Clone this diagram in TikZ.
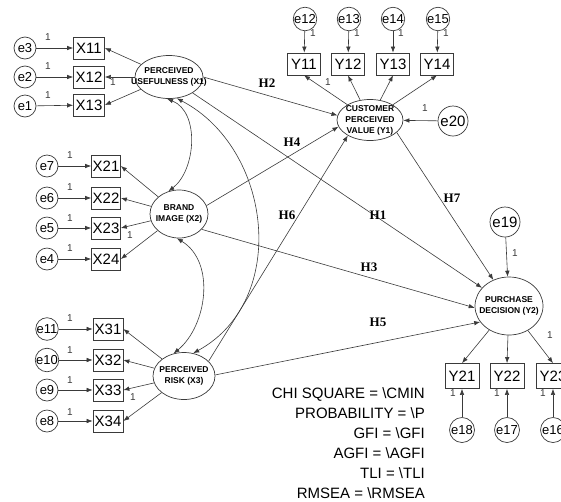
\documentclass[tikz,border=0pt]{standalone}
\usepackage{fontspec}
\setmainfont{Liberation Sans}
\newfontfamily\hypfont{Liberation Serif}
\usepackage{tikz}
\usetikzlibrary{arrows.meta, shapes.geometric}
\definecolor{linegray}{HTML}{3A3A3A}
\newcommand{\latentname}[1]{\smash{\makebox[0pt]{\raisebox{-2pt}{\begin{tabular}{@{}c@{}}#1\end{tabular}}}}}

\begin{document}
\begin{tikzpicture}[
    x=1pt, y=-1pt,
    latent/.style={ellipse, draw=linegray, line width=0.7pt, fill=white, inner sep=0pt,
                   font=\fontsize{8.5}{11}\selectfont\bfseries},
    observed/.style={rectangle, draw=linegray, line width=0.7pt, fill=white, inner sep=0pt,
                     minimum width=31pt, minimum height=22pt, font=\fontsize{15}{18}\selectfont},
    error/.style={circle, draw=linegray, line width=0.7pt, fill=white, inner sep=0pt,
                  minimum size=22pt, font=\fontsize{13}{15}\selectfont},
    arrow/.style={-{Latex[length=6pt, width=4.5pt]}, line width=0.6pt, draw=linegray},
    covar/.style={{Latex[length=6pt, width=4.5pt]}-{Latex[length=6pt, width=4.5pt]},
                  line width=0.6pt, draw=linegray},
    weight/.style={font=\fontsize{10}{12}\selectfont, inner sep=0pt, text=linegray},
    hyp/.style={font=\hypfont\bfseries\fontsize{13}{15}\selectfont, inner sep=0pt},
    fitindex/.style={font=\fontsize{15}{18}\selectfont, anchor=base east, inner sep=0pt}
  ]
    \useasboundingbox (0,0) rectangle (561,501);
    \clip (0,0) rectangle (561,501);

    % latent variables
    \node[latent, minimum width=68pt, minimum height=43pt] (X1) at (169,77)  {\latentname{PERCEIVED\\USEFULNESS (X1)}};
    \node[latent, minimum width=58pt, minimum height=48pt] (X2) at (179,214) {\latentname{BRAND\\IMAGE (X2)}};
    \node[latent, minimum width=62pt, minimum height=47pt] (X3) at (184,376) {\latentname{PERCEIVED\\RISK (X3)}};
    \node[latent, minimum width=66pt, minimum height=41pt] (Y1) at (370,120) {\latentname{CUSTOMER\\PERCEIVED\\VALUE (Y1)}};
    \node[latent, minimum width=68pt, minimum height=58pt] (Y2) at (509,306) {\latentname{PURCHASE\\DECISION (Y2)}};

    % indicators
    \node[observed] (X11) at (89,48)   {X11};
    \node[observed] (X12) at (89,77)   {X12};
    \node[observed] (X13) at (89,105)  {X13};
    \node[observed, minimum width=29pt] (X21) at (106,166) {X21};
    \node[observed, minimum width=29pt] (X22) at (106,198) {X22};
    \node[observed, minimum width=29pt] (X23) at (106,228) {X23};
    \node[observed, minimum width=29pt] (X24) at (106,259) {X24};
    \node[observed, minimum width=30pt] (X31) at (108,329) {X31};
    \node[observed, minimum width=30pt] (X32) at (108,360) {X32};
    \node[observed, minimum width=30pt] (X33) at (108,390) {X33};
    \node[observed, minimum width=30pt] (X34) at (108,421) {X34};
    \node[observed, minimum width=33pt] (Y11) at (304,64)  {Y11};
    \node[observed, minimum width=33pt] (Y12) at (348,64)  {Y12};
    \node[observed, minimum width=33pt] (Y13) at (393,64)  {Y13};
    \node[observed, minimum width=33pt] (Y14) at (437,64)  {Y14};
    \node[observed, minimum width=34pt, minimum height=25pt] (Y21) at (462,376) {Y21};
    \node[observed, minimum width=34pt, minimum height=25pt] (Y22) at (507,376) {Y22};
    \node[observed, minimum width=34pt, minimum height=25pt] (Y23) at (553,376) {Y23};

    % error terms
    \node[error] (e3)  at (25,48)   {e3};
    \node[error] (e2)  at (25,77)   {e2};
    \node[error] (e1)  at (25,106)  {e1};
    \node[error] (e7)  at (47,166)  {e7};
    \node[error] (e6)  at (47,198)  {e6};
    \node[error] (e5)  at (47,228)  {e5};
    \node[error] (e4)  at (47,259)  {e4};
    \node[error] (e11) at (47,329)  {e11};
    \node[error] (e10) at (47,360)  {e10};
    \node[error] (e9)  at (47,390)  {e9};
    \node[error] (e8)  at (47,421)  {e8};
    \node[error] (e12) at (305,19)  {e12};
    \node[error] (e13) at (349,19)  {e13};
    \node[error] (e14) at (393,19)  {e14};
    \node[error] (e15) at (438,19)  {e15};
    \node[error, minimum size=30pt, font=\fontsize{15}{18}\selectfont] (e20) at (453,121) {e20};
    \node[error, minimum size=30pt, font=\fontsize{15}{18}\selectfont] (e19) at (505,222) {e19};
    \node[error, minimum size=25pt] (e18) at (462,430) {e18};
    \node[error, minimum size=25pt] (e17) at (507,430) {e17};
    \node[error, minimum size=25pt] (e16) at (553,430) {e16};

    % measurement arrows
    \draw[arrow] (X1) -- (X11.east);
    \draw[arrow] (X1) -- (X12.east);
    \draw[arrow] (X1) -- (X13.east);
    \draw[arrow] (X2) -- (X21.east);
    \draw[arrow] (X2) -- (X22.east);
    \draw[arrow] (X2) -- (X23.east);
    \draw[arrow] (X2) -- (X24.east);
    \draw[arrow] (X3) -- (X31.east);
    \draw[arrow] (X3) -- (X32.east);
    \draw[arrow] (X3) -- (X33.east);
    \draw[arrow] (X3) -- (X34.east);
    \draw[arrow] (Y1) -- (Y11.south);
    \draw[arrow] (Y1) -- (Y12.south);
    \draw[arrow] (Y1) -- (Y13.south);
    \draw[arrow] (Y1) -- (Y14.south);
    \draw[arrow] (Y2) -- (Y21.north);
    \draw[arrow] (Y2) -- (Y22.north);
    \draw[arrow] (Y2) -- (Y23.north);

    \draw[arrow] (e3) -- (X11);
    \draw[arrow] (e2) -- (X12);
    \draw[arrow] (e1) -- (X13);
    \draw[arrow] (e7) -- (X21);
    \draw[arrow] (e6) -- (X22);
    \draw[arrow] (e5) -- (X23);
    \draw[arrow] (e4) -- (X24);
    \draw[arrow] (e11) -- (X31);
    \draw[arrow] (e10) -- (X32);
    \draw[arrow] (e9) -- (X33);
    \draw[arrow] (e8) -- (X34);
    \draw[arrow] (e12) -- (Y11);
    \draw[arrow] (e13) -- (Y12);
    \draw[arrow] (e14) -- (Y13);
    \draw[arrow] (e15) -- (Y14);
    \draw[arrow] (e18) -- (Y21);
    \draw[arrow] (e17) -- (Y22);
    \draw[arrow] (e16) -- (Y23);
    \draw[arrow] (e20) -- (Y1);
    \draw[arrow] (e19) -- (Y2);

    % covariances
    \draw[covar] (X1.-95) .. controls (200,112) and (196,170) .. (X2.115);
    \draw[covar] (X1.-70) .. controls (272,148) and (290,300) .. (X3.68);
    \draw[covar] (X2.-95) .. controls (216,262) and (207,326) .. (X3.115);

    % structural paths
    \draw[arrow] (X1.east) -- (Y1.172);
    \draw[arrow] (X1) -- (Y2);
    \draw[arrow] (X2.17) -- (Y1.192);
    \draw[arrow] (X2.-34) -- (Y2.183);
    \draw[arrow] (X3.31) -- (Y1.215);
    \draw[arrow] (X3.2) -- (Y2.209);
    \draw[arrow] (Y1.-25) -- (Y2.121);

    % fixed weights
    \node[weight] (w1)  at (48,37)   {1};
    \node[weight] (w2)  at (48,66)   {1};
    \node[weight] (w3)  at (48,95)   {1};
    \node[weight] (w4)  at (70,155)  {1};
    \node[weight] (w5)  at (70,187)  {1};
    \node[weight] (w6)  at (70,218)  {1};
    \node[weight] (w7)  at (70,248)  {1};
    \node[weight] (w8)  at (70,318)  {1};
    \node[weight] (w9)  at (70,350)  {1};
    \node[weight] (w10) at (70,380)  {1};
    \node[weight] (w11) at (70,412)  {1};
    \node[weight] (w12) at (313,33)  {1};
    \node[weight] (w13) at (357,33)  {1};
    \node[weight] (w14) at (401,33)  {1};
    \node[weight] (w15) at (446,33)  {1};
    \node[weight] (w16) at (425,108) {1};
    \node[weight] (w17) at (515,253) {1};
    \node[weight] (w18) at (453,393) {1};
    \node[weight] (w19) at (497,393) {1};
    \node[weight] (w20) at (543,393) {1};
    \node[weight] (w21) at (113,82)  {1};
    \node[weight] (w22) at (130,235) {1};
    \node[weight] (w23) at (133,397) {1};
    \node[weight] (w24) at (328,82)  {1};
    \node[weight] (w25) at (550,335) {1};

    % hypotheses
    \node[hyp] (H2) at (267,83)  {H2};
    \node[hyp] (H4) at (292,142) {H4};
    \node[hyp] (H6) at (287,215) {H6};
    \node[hyp] (H1) at (378,215) {H1};
    \node[hyp] (H3) at (369,267) {H3};
    \node[hyp] (H7) at (452,198) {H7};
    \node[hyp] (H5) at (378,322) {H5};

    % fit indices
    \node[fitindex] (chisq) at (425,398)   {CHI SQUARE = \textbackslash CMIN};
    \node[fitindex] (prob)  at (425,418) {PROBABILITY = \textbackslash P};
    \node[fitindex] (gfi)   at (425,438)   {GFI = \textbackslash GFI};
    \node[fitindex] (agfi)  at (425,458)   {AGFI = \textbackslash AGFI};
    \node[fitindex] (tli)   at (425,478) {TLI = \textbackslash TLI};
    \node[fitindex] (rmsea) at (425,498) {RMSEA = \textbackslash RMSEA};
\end{tikzpicture}
\end{document}
